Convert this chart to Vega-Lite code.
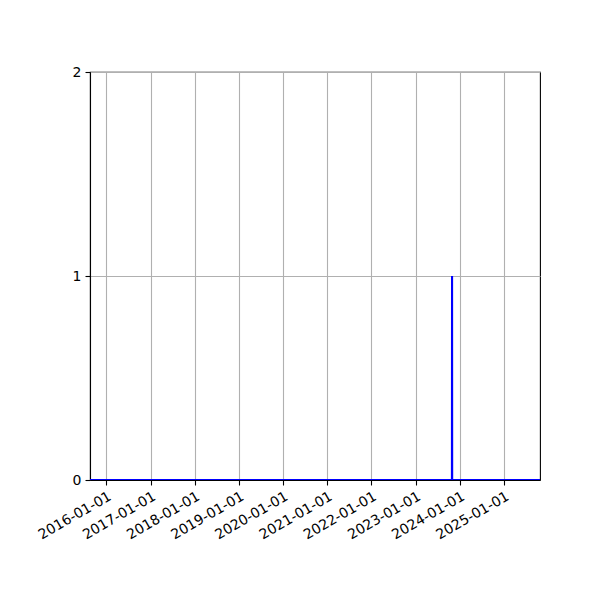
{
  "$schema": "https://vega.github.io/schema/vega-lite/v6.json",
  "autosize": "none",
  "width": 450,
  "height": 408,
  "padding": {"left": 90, "top": 72, "right": 60, "bottom": 120},
  "background": "white",
  "data": {
    "values": [
      {"date": "2015-08-19", "count": 0},
      {"date": "2023-10-28", "count": 0},
      {"date": "2023-10-29", "count": 1},
      {"date": "2023-10-30", "count": 0},
      {"date": "2025-10-25", "count": 0}
    ]
  },
  "mark": {"type": "line", "color": "#0000ff", "strokeWidth": 2.1, "clip": true, "interpolate": "linear"},
  "encoding": {
    "x": {
      "field": "date",
      "type": "temporal",
      "title": null,
      "scale": {
        "type": "utc",
        "domain": [
          {"year": 2015, "month": 8, "date": 19, "utc": true},
          {"year": 2025, "month": 10, "date": 25, "utc": true}
        ],
        "nice": false
      },
      "axis": {
        "values": [
          {"year": 2016, "month": 1, "date": 1, "utc": true},
          {"year": 2017, "month": 1, "date": 1, "utc": true},
          {"year": 2018, "month": 1, "date": 1, "utc": true},
          {"year": 2019, "month": 1, "date": 1, "utc": true},
          {"year": 2020, "month": 1, "date": 1, "utc": true},
          {"year": 2021, "month": 1, "date": 1, "utc": true},
          {"year": 2022, "month": 1, "date": 1, "utc": true},
          {"year": 2023, "month": 1, "date": 1, "utc": true},
          {"year": 2024, "month": 1, "date": 1, "utc": true},
          {"year": 2025, "month": 1, "date": 1, "utc": true}
        ],
        "format": "%Y-%m-%d",
        "labelAngle": -30,
        "labelAlign": "right",
        "labelBaseline": "top",
        "labelPadding": 4,
        "labelOverlap": false,
        "labelFlush": false,
        "grid": true
      }
    },
    "y": {
      "field": "count",
      "type": "quantitative",
      "title": null,
      "scale": {"domain": [0, 2], "nice": false, "zero": false},
      "axis": {"tickCount": 2, "tickMinStep": 1, "format": "d", "grid": true, "labelPadding": 4, "labelOverlap": false, "labelFlush": false}
    }
  },
  "config": {
    "view": {"stroke": "#000000", "strokeWidth": 1.1},
    "axis": {
      "labelFont": "DejaVu Sans",
      "labelFontSize": 14,
      "labelColor": "#000000",
      "domainColor": "#000000",
      "domainWidth": 1.1,
      "tickColor": "#000000",
      "tickWidth": 1.1,
      "tickSize": 5,
      "gridColor": "#b0b0b0",
      "gridWidth": 1.1,
      "gridOpacity": 1
    }
  }
}
